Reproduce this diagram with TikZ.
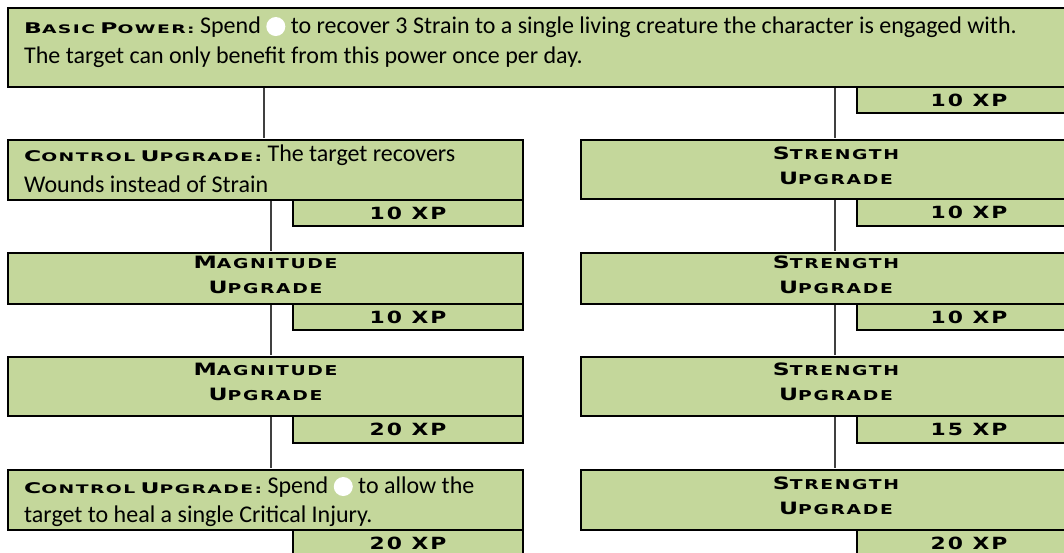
\documentclass[tikz,border=0pt]{standalone}
\usepackage{fontspec}
\setmainfont{Carlito}
\newfontfamily\hdfont[FakeStretch=1.3,LetterSpace=12]{DejaVu Sans}
\newfontfamily\titlefont[FakeStretch=1.38,LetterSpace=12]{DejaVu Sans}
\newfontfamily\inlinefont[FakeStretch=1.59,LetterSpace=12]{DejaVu Sans}
\definecolor{boxgreen}{HTML}{C4D79B}
\definecolor{linegray}{HTML}{404040}
\newcommand\InHead[2]{{\inlinefont\bfseries\fontsize{14.7}{14.7}\selectfont #1\fontsize{11.8}{11.8}\selectfont #2}}
\newcommand\TiHead[2]{{\titlefont\bfseries\fontsize{17}{17}\selectfont #1\fontsize{13.6}{13.6}\selectfont #2}}
\newcommand\wcirc{\tikz[baseline=-0.27em]\fill[white] (0pt,0pt) circle (9.5pt);}
\tikzset{
  box/.style={draw=black, line width=2pt, fill=boxgreen, inner sep=0pt, anchor=north west},
  conn/.style={draw=linegray, line width=1.6pt},
  bodytext/.style={font=\fontsize{24}{29}\selectfont, inner sep=0pt, anchor=base west},
  titletext/.style={inner sep=0pt, anchor=base},
  xptext/.style={font=\hdfont\bfseries\fontsize{16.8}{16.8}\selectfont}
}
\begin{document}
\begin{tikzpicture}[x=1pt,y=-1pt]
\useasboundingbox (0,0) rectangle (1064,552);
\clip (0,0) rectangle (1064,552);
\coordinate (cl) at (264,0);
\coordinate (cm) at (271,0);
\coordinate (cr) at (835,0);
% boxes
\node[box, minimum width=1083pt, minimum height=79pt] (top) at (7,7) {};
\node[box, minimum width=515pt, minimum height=60pt] (L1) at (7,139) {};
\node[box, minimum width=515pt, minimum height=51pt] (L2) at (7,252) {};
\node[box, minimum width=515pt, minimum height=59pt] (L3) at (7,356) {};
\node[box, minimum width=515pt, minimum height=60pt] (L4) at (7,469) {};
\node[box, minimum width=510pt, minimum height=59pt] (R1) at (580,139) {};
\node[box, minimum width=510pt, minimum height=51pt] (R2) at (580,252) {};
\node[box, minimum width=510pt, minimum height=59pt] (R3) at (580,356) {};
\node[box, minimum width=510pt, minimum height=60pt] (R4) at (580,469) {};
% xp boxes
\node[box, xptext, minimum width=224pt, minimum height=26pt] (RX0) at (856,86) {10 XP};
\node[box, xptext, minimum width=230pt, minimum height=26pt] (LX1) at (292,199) {10 XP};
\node[box, xptext, minimum width=230pt, minimum height=26pt] (LX2) at (292,303) {10 XP};
\node[box, xptext, minimum width=230pt, minimum height=27pt] (LX3) at (292,415) {20 XP};
\node[box, xptext, minimum width=230pt, minimum height=26pt] (LX4) at (292,529) {20 XP};
\node[box, xptext, minimum width=224pt, minimum height=27pt] (RX1) at (856,198) {10 XP};
\node[box, xptext, minimum width=224pt, minimum height=26pt] (RX2) at (856,303) {10 XP};
\node[box, xptext, minimum width=224pt, minimum height=27pt] (RX3) at (856,415) {15 XP};
\node[box, xptext, minimum width=224pt, minimum height=26pt] (RX4) at (856,529) {20 XP};
% connectors
\draw[conn] (top.south -| cl) -- ([yshift=1.5pt]L1.north -| cl);
\draw[conn] (L1.south -| cm) -- ([yshift=1.5pt]L2.north -| cm);
\draw[conn] (L2.south -| cm) -- ([yshift=1.5pt]L3.north -| cm);
\draw[conn] (L3.south -| cm) -- ([yshift=1.5pt]L4.north -| cm);
\draw[conn] (top.south -| cr) -- ([yshift=1.5pt]R1.north -| cr);
\draw[conn] (R1.south -| cr) -- ([yshift=1.5pt]R2.north -| cr);
\draw[conn] (R2.south -| cr) -- ([yshift=1.5pt]R3.north -| cr);
\draw[conn] (R3.south -| cr) -- ([yshift=1.5pt]R4.north -| cr);
% texts
\node[bodytext] (t0a) at (24,33) {\InHead{B}{ASIC} \InHead{P}{OWER:} Spend \wcirc{} to recover 3 Strain to a single living creature the character is engaged with.};
\node[bodytext] (t0b) at (24,63) {The target can only benefit from this power once per day.};
\node[bodytext] (t1a) at (24,161) {\InHead{C}{ONTROL} \InHead{U}{PGRADE:} The target recovers};
\node[bodytext] (t1b) at (24,192) {Wounds instead of Strain};
\node[titletext] (t2a) at (L2.center |- 0,268) {\TiHead{M}{AGNITUDE}};
\node[titletext] (t2b) at (L2.center |- 0,293) {\TiHead{U}{PGRADE}};
\node[titletext] (t3a) at (L3.center |- 0,375) {\TiHead{M}{AGNITUDE}};
\node[titletext] (t3b) at (L3.center |- 0,400) {\TiHead{U}{PGRADE}};
\node[bodytext] (t4a) at (24,493) {\InHead{C}{ONTROL} \InHead{U}{PGRADE:} Spend \wcirc{} to allow the};
\node[bodytext] (t4b) at (24,522) {target to heal a single Critical Injury.};
\node[titletext] (s1a) at (R1.center |- 0,159) {\TiHead{S}{TRENGTH}};
\node[titletext] (s1b) at (R1.center |- 0,184) {\TiHead{U}{PGRADE}};
\node[titletext] (s2a) at (R2.center |- 0,268) {\TiHead{S}{TRENGTH}};
\node[titletext] (s2b) at (R2.center |- 0,293) {\TiHead{U}{PGRADE}};
\node[titletext] (s3a) at (R3.center |- 0,375) {\TiHead{S}{TRENGTH}};
\node[titletext] (s3b) at (R3.center |- 0,400) {\TiHead{U}{PGRADE}};
\node[titletext] (s4a) at (R4.center |- 0,489) {\TiHead{S}{TRENGTH}};
\node[titletext] (s4b) at (R4.center |- 0,514) {\TiHead{U}{PGRADE}};
\end{tikzpicture}
\end{document}
